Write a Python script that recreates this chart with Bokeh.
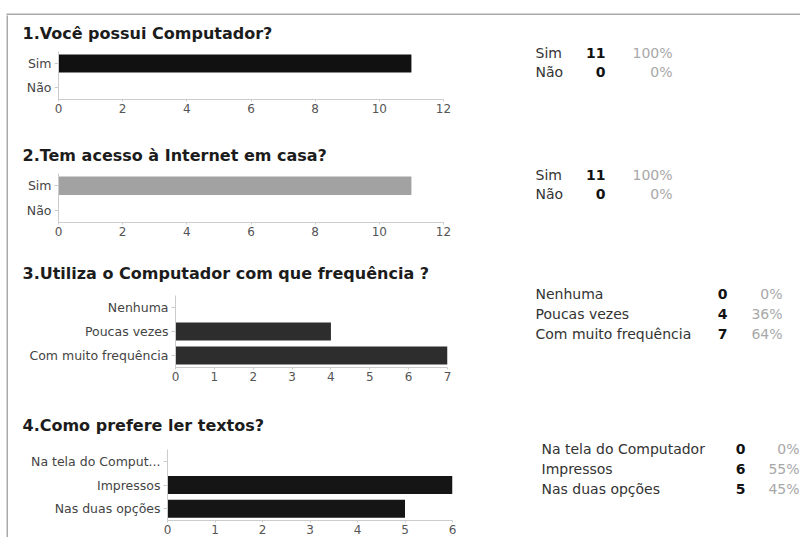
from bokeh.plotting import figure
from bokeh.layouts import column, row
from bokeh.models import Range1d, FactorRange, SingleIntervalTicker, Spacer, ColumnDataSource
from bokeh.embed import file_html
from bokeh.resources import INLINE
from bokeh.core.properties import value

# ---------------- data ----------------
q1_title = "1.Você possui Computador?"
q1_cats = ["Sim", "Não"]
q1_vals = [11, 0]
q1_pcts = ["100%", "0%"]

q2_title = "2.Tem acesso à Internet em casa?"
q2_cats = ["Sim", "Não"]
q2_vals = [11, 0]
q2_pcts = ["100%", "0%"]

q3_title = "3.Utiliza o Computador com que frequência ?"
q3_cats = ["Nenhuma", "Poucas vezes", "Com muito frequência"]
q3_vals = [0, 4, 7]
q3_pcts = ["0%", "36%", "64%"]

q4_title = "4.Como prefere ler textos?"
q4_axis_cats = ["Na tela do Comput...", "Impressos", "Nas duas opções"]
q4_table_cats = ["Na tela do Computador", "Impressos", "Nas duas opções"]
q4_vals = [0, 6, 5]
q4_pcts = ["0%", "55%", "45%"]

x_max = [12, 12, 7, 6]
x_step = [2, 2, 1, 1]

# ---------------- style ----------------
FONT = "DejaVu Sans"
FONT_V = value(FONT)
GRAY = "#a9a9a9"
AXIS = "#cccccc"
CW = 472
TW = 320
PW = CW + TW


def base(w, h, **kw):
    p = figure(width=w, height=h, title=None, output_backend="svg",
               toolbar_location=None, frame_align=False, **kw)
    p.outline_line_color = None
    return p


def title_fig(text, h, y_from_bottom):
    p = base(PW, h, x_range=Range1d(0, PW), y_range=Range1d(0, h),
             x_axis_location=None, y_axis_location=None, min_border=0)
    p.grid.visible = False
    p.text(x=[14], y=[y_from_bottom], text=[text], text_font=FONT_V, text_font_size="16px",
           text_font_style="bold", text_color="#1c1c1c", text_baseline="middle")
    return p


def chart(cats, vals, xmax, step, color, h, left, frame_w, top, frame_h):
    p = base(CW, h, x_range=Range1d(0, xmax), y_range=FactorRange(factors=list(reversed(cats))),
             min_border_left=left, min_border_right=CW - left - frame_w,
             min_border_top=top, min_border_bottom=h - top - frame_h)
    src = ColumnDataSource(dict(cat=cats, val=vals))
    p.hbar(y="cat", left=0, right="val", height=0.76, source=src,
           fill_color=color, line_color=None)
    p.xaxis.ticker = SingleIntervalTicker(interval=step)
    p.xgrid.visible = False
    p.ygrid.visible = False
    for ax in (p.xaxis[0], p.yaxis[0]):
        ax.axis_line_color = AXIS
        ax.major_tick_line_color = AXIS
        ax.minor_tick_line_color = None
        ax.major_tick_in = 0
        ax.major_label_text_font = FONT
        ax.major_label_text_color = "#444444"
    p.yaxis.major_tick_out = 4
    p.yaxis.major_label_standoff = 3
    p.yaxis.major_label_text_font_size = "12.5px"
    p.xaxis.major_tick_out = 2
    p.xaxis.major_label_standoff = 0
    p.xaxis.major_label_text_font_size = "12px"
    p.xaxis.major_label_text_color = "#555555"
    return p


def table(cats, vals, pcts, h, top, rows_h, label_x, count_x, pct_x):
    p = base(TW, h, x_range=Range1d(0, TW), y_range=FactorRange(factors=list(reversed(cats))),
             x_axis_location=None, y_axis_location=None,
             min_border_left=0, min_border_right=0, min_border_top=top,
             min_border_bottom=h - top - rows_h)
    p.grid.visible = False
    src = ColumnDataSource(dict(cat=cats, val=[str(v) for v in vals], pct=pcts))
    p.text(x=label_x, y="cat", text="cat", source=src, text_font=FONT_V,
           text_font_size="14px", text_color="#333333", text_align="left", text_baseline="middle")
    p.text(x=count_x, y="cat", text="val", source=src, text_font=FONT_V,
           text_font_size="14px", text_font_style="bold", text_color="#111111",
           text_align="right", text_baseline="middle")
    p.text(x=pct_x, y="cat", text="pct", source=src, text_font=FONT_V,
           text_font_size="14px", text_color="#a8a8a8", text_align="right", text_baseline="middle")
    return p


# top border line (the frame of a thin strip) and left border line
top_strip = base(800, 15, x_axis_location=None, y_axis_location=None,
                 min_border_left=6, min_border_right=0, min_border_top=13, min_border_bottom=0,
                 background_fill_color=GRAY, border_fill_color="white")
top_strip.grid.visible = False
left_strip = base(2, 522, x_axis_location=None, y_axis_location=None, min_border=0,
                  background_fill_color=GRAY, border_fill_color=GRAY)
left_strip.grid.visible = False

p1 = column(title_fig(q1_title, 28, 10),
            row(chart(q1_cats, q1_vals, x_max[0], x_step[0], "#111111", 97, 50, 385, 8, 48),
                table(q1_cats, q1_vals, q1_pcts, 97, 0, 38, 55, 125, 192)))
p2 = column(title_fig(q2_title, 25, 10),
            row(chart(q2_cats, q2_vals, x_max[1], x_step[1], "#a2a2a2", 97, 50, 385, 8, 49),
                table(q2_cats, q2_vals, q2_pcts, 97, 0, 38, 55, 125, 192)))
p3 = column(title_fig(q3_title, 22, 11),
            row(chart(q3_cats, q3_vals, x_max[2], x_step[2], "#2d2d2d", 123, 167, 272, 11, 72),
                table(q3_cats, q3_vals, q3_pcts, 123, 0, 59, 55, 247, 302)))
p4 = column(title_fig(q4_title, 31, 13),
            row(chart(q4_axis_cats, q4_vals, x_max[3], x_step[3], "#151515", 99, 159, 285, 11, 71),
                table(q4_table_cats, q4_vals, q4_pcts, 99, 0, 60, 61, 265, 319)))

root = column(top_strip, row(Spacer(width=6), left_strip, column(p1, p2, p3, p4)))

open("out.html", "w").write(file_html(root, INLINE))
